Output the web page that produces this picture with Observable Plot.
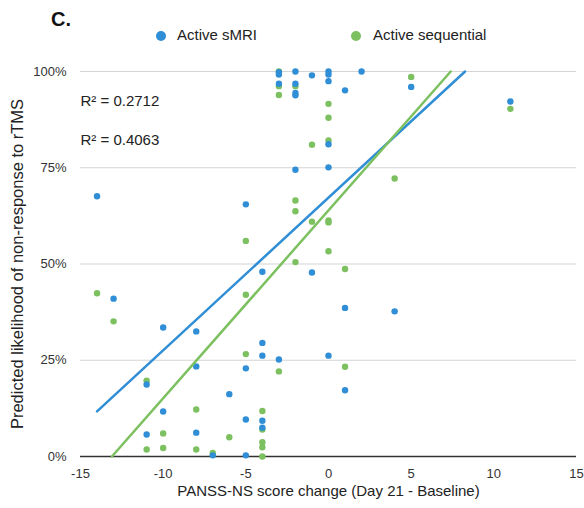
<!DOCTYPE html>
<html>
<head>
<meta charset="utf-8">
<script src="https://cdn.jsdelivr.net/npm/d3@7"></script>
<script src="https://cdn.jsdelivr.net/npm/@observablehq/plot@0.6"></script>
<style>
  body { margin: 0; background: #fff; font-family: "Liberation Sans", Arial, sans-serif; }
  #wrap { position: relative; width: 584px; height: 508px; }
  #header { position: relative; width: 584px; height: 50px; }
  .panel { position: absolute; left: 51px; top: 8px; font-weight: bold; font-size: 20px; color: #111; }
  .leg { position: absolute; top: 26px; font-size: 15px; color: #222; line-height: 18px; }
  .dot { position: absolute; width: 10px; height: 10px; border-radius: 50%; top: 31px; }
</style>
</head>
<body>
<div id="wrap">
  <div id="header">
    <div class="panel">C.</div>
    <div class="dot" id="d1"></div><div class="leg" id="l1"></div>
    <div class="dot" id="d2"></div><div class="leg" id="l2"></div>
  </div>
  <div id="chart"></div>
</div>
<script>
// ---- data ----
const seriesNames = ["Active sMRI", "Active sequential"];
const seriesColors = ["#2F8ED6", "#7CC060"];

const smriX = [-14, -13, -11, -11, -10, -10, -8, -8, -8, -7, -6, -5, -5, -5, -5,
  -4, -4, -4, -4, -4, -3, -3, -3, -3, -2, -2, -2, -2, -2, -1, -1,
  0, 0, 0, 0, 0, 0, 1, 1, 1, 2, 4, 5, 11];
const smriY = [67.6, 41.0, 18.7, 5.7, 33.5, 11.7, 32.5, 23.4, 6.2, 0.3, 16.2, 65.5, 22.9, 9.6, 0.3,
  48.0, 29.5, 26.2, 9.3, 7.5, 99.8, 99.2, 96.8, 25.2, 100, 96.8, 94.4, 93.8, 74.5, 99.0, 47.8,
  100, 99.2, 97.5, 81.1, 75.1, 26.2, 95.1, 38.6, 17.2, 100, 37.7, 96.0, 92.2];

const seqX = [-14, -13, -11, -11, -10, -10, -8, -8, -7, -6, -5, -5, -5,
  -4, -4, -4, -4, -4, -3, -3, -3, -3, -2, -2, -2, -2, -1, -1,
  0, 0, 0, 0, 0, 0, 1, 1, 4, 5, 11];
const seqY = [42.4, 35.1, 19.7, 1.8, 6.0, 2.2, 12.2, 1.8, 0.9, 5.0, 56.0, 42.0, 26.6,
  11.8, 7.0, 3.7, 2.4, 0, 100, 96.2, 93.9, 22.1, 96.2, 66.5, 63.7, 50.5, 81.0, 61.0,
  91.6, 88.0, 82.1, 61.3, 60.8, 53.3, 48.7, 23.3, 72.2, 98.6, 90.3];

// trendlines (endpoints)
const trendSmriX = [-14, 8.26];
const trendSmriY = [11.7, 100];
const trendSeqX = [-13.1, 7.39];
const trendSeqY = [0, 100];

const r2Labels = ["R² = 0.2712", "R² = 0.4063"];
const r2Y = [92.2, 82.1];

const xTicks = [-15, -10, -5, 0, 5, 10, 15];
const yTicks = [0, 25, 50, 75, 100];
const xTitle = "PANSS-NS score change (Day 21 - Baseline)";
const yTitle = "Predicted likelihood of non-response to rTMS";

// ---- build tables ----
const smri = smriX.map((x, i) => ({x, y: smriY[i]}));
const seq = seqX.map((x, i) => ({x, y: seqY[i]}));
const tSmri = trendSmriX.map((x, i) => ({x, y: trendSmriY[i]}));
const tSeq = trendSeqX.map((x, i) => ({x, y: trendSeqY[i]}));
const r2 = r2Labels.map((t, i) => ({t, y: r2Y[i]}));

// legend
document.getElementById("d1").style.cssText = `left:${156}px;background:${seriesColors[0]}`;
document.getElementById("d2").style.cssText = `left:${351}px;background:${seriesColors[1]}`;
const l1 = document.getElementById("l1"); l1.textContent = seriesNames[0]; l1.style.left = "177px";
const l2 = document.getElementById("l2"); l2.textContent = seriesNames[1]; l2.style.left = "373px";

const chart = Plot.plot({
  width: 584,
  height: 458,
  marginLeft: 80,
  marginRight: 8,
  marginTop: 21,
  marginBottom: 52,
  style: {fontFamily: "Liberation Sans, Arial, sans-serif", fontSize: "13px", color: "#333", background: "#fff"},
  x: {domain: [-15, 15]},
  y: {domain: [0, 100]},
  marks: [
    Plot.gridY(yTicks.filter(d => d > 0), {stroke: "#d4d4d4", strokeOpacity: 1, strokeWidth: 1.2}),
    Plot.axisY({ticks: yTicks, tickSize: 0, tickPadding: 14, tickFormat: d => d + "%", label: null, fill: "#333"}),
    Plot.axisX({ticks: xTicks, tickSize: 0, tickPadding: 12, tickFormat: d => String(d), label: null, fill: "#333"}),
    Plot.ruleY([0], {stroke: "#333", strokeWidth: 1.5}),
    Plot.dot(seq, {x: "x", y: "y", r: 3.2, fill: seriesColors[1]}),
    Plot.dot(smri, {x: "x", y: "y", r: 3.2, fill: seriesColors[0]}),
    Plot.line(tSmri, {x: "x", y: "y", stroke: seriesColors[0], strokeWidth: 2.5}),
    Plot.line(tSeq, {x: "x", y: "y", stroke: seriesColors[1], strokeWidth: 2.5}),
    Plot.text(r2, {x: () => -15, y: "y", text: "t", textAnchor: "start", fontSize: 15, fill: "#222"}),
    Plot.text([yTitle], {frameAnchor: "left", textAnchor: "middle", rotate: -90, dx: -63, fontSize: 16.5, fill: "#222"}),
    Plot.text([xTitle], {frameAnchor: "bottom", textAnchor: "middle", dy: 39, fontSize: 15, fill: "#222"})
  ]
});
document.getElementById("chart").appendChild(chart);
</script>
</body>
</html>
